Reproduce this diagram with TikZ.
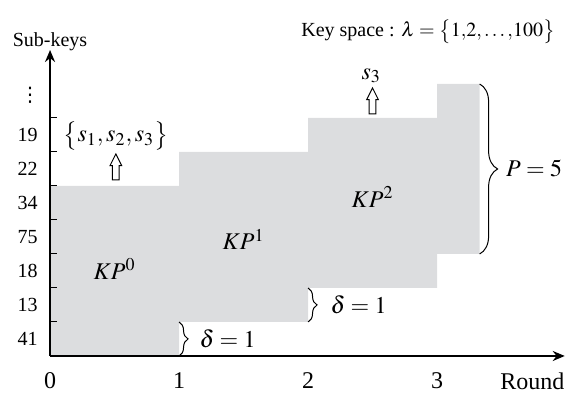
\documentclass[tikz,border=0pt]{standalone}
\usepackage{mathptmx}
\usepackage{fontspec}
\setmainfont{Liberation Serif}
\newfontfamily\dotsfont{DejaVu Sans}
\usepackage{xcolor}
\usepackage{amsmath}
\usepackage{tikz}
\usetikzlibrary{arrows.meta, decorations.pathreplacing}

\definecolor{kpgray}{RGB}{220,221,223}

\begin{document}
\begin{tikzpicture}[x=64.5pt, y=17pt,
  axis/.style={-{Stealth[length=6pt, width=5pt]}, line width=1.2pt},
  brc/.style={decorate, decoration={brace, amplitude=#1}, line width=0.5pt},
  hollow/.style={line width=0.5pt, fill=white}]
\useasboundingbox (-0.388,-1.06) rectangle (3.992,10.47);
% key partitions KP^0, KP^1, KP^2
\fill[kpgray] (0,0) -- (0,5) -- (1,5) -- (1,6) -- (2,6) -- (2,7) -- (3,7) -- (3,8)
  -- (3.33,8) -- (3.33,3) -- (3,3) -- (3,2) -- (2,2) -- (2,1) -- (1,1) -- (1,0) -- cycle;
\node (kp0) at (0.5,2.55) {\large $KP^0$};
\node (kp1) at (1.5,3.43) {\large $KP^1$};
\node (kp2) at (2.5,4.68) {\large $KP^2$};
% axes
\coordinate (o) at (0,0);
\coordinate (ytop) at (0,9);
\coordinate (xend) at (3.99,0);
\draw[axis] (o) -- (ytop);
\draw[axis] (o) -- (xend);
\node (subkeys) at (0,9.23) {Sub-keys};
\foreach \y in {1,...,7} {
  \draw[line width=0.5pt] (0,\y) -- (0.05,\y);
}
\foreach \y/\k in {0/41,1/13,2/18,3/75,4/34,5/22,6/19} {
  \node[anchor=east, inner sep=0pt] (sk\k) at (-0.093,\y+0.5) {\k};
}
\node[inner sep=0pt] (skdots) at (-0.155,7.66) {\dotsfont ⋮};
\foreach \x in {0,1,2,3} {
  \node[anchor=north, inner sep=0pt] (r\x) at (\x,-0.47) {\large \x};
}
\node[anchor=north east, inner sep=0pt] (round) at (3.99,-0.47) {\large Round};
% key space
\node[anchor=east, inner sep=0pt] (keyspace) at (3.915,9.55)
  {Key space : $\lambda=\bigl\{1{,}2{,}\ldots{,}100\bigr\}$};
% selected sub-keys
\node (sset) at (0.51,6.47) {\large $\bigl\{s_1, s_2, s_3\bigr\}$};
\node (s3) at (2.49,8.24) {\large $s_3$};
\coordinate (u1) at (0.51,5.56);
\coordinate (u2) at (2.5,7.5);
\foreach \u in {u1,u2} {
  \draw[hollow, shift={(\u)}, x=1pt, y=1pt] (-1.7,-6.5) -- (-1.7,0.7) -- (-2.9,0.7)
    -- (0,6.5) -- (2.9,0.7) -- (1.7,0.7) -- (1.7,-6.5) -- cycle;
}
% braces
\coordinate (pa) at (3.33,8);
\coordinate (pb) at (3.33,3);
\draw[brc=9pt] (pa) -- (pb) node[midway, right=13pt, inner sep=0pt] (plbl) {\large $P=5$};
\coordinate (da) at (1,1);
\coordinate (db) at (1,0);
\draw[brc=4.5pt] (da) -- (db) node[midway, right=10pt, inner sep=0pt] (dlbl1) {\large $\delta=1$};
\coordinate (dc) at (2,2);
\coordinate (dd) at (2,1);
\draw[brc=4.5pt] (dc) -- (dd) node[midway, right=11pt, inner sep=0pt] (dlbl2) {\large $\delta=1$};
\end{tikzpicture}
\end{document}
